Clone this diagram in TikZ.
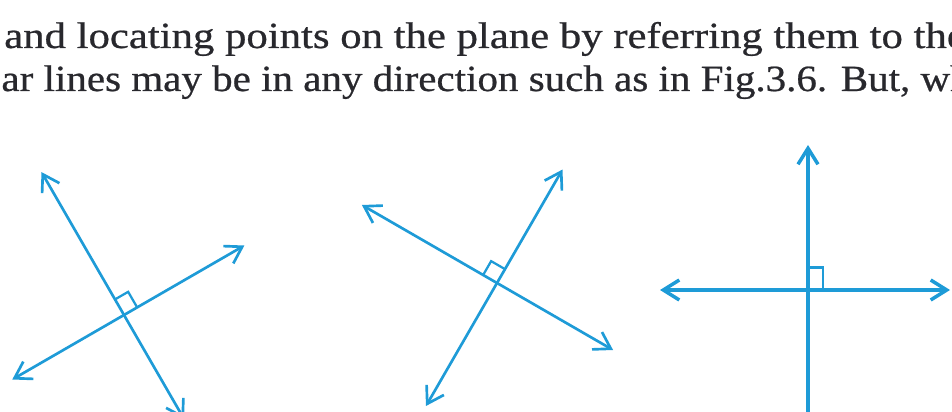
\documentclass[tikz,border=0pt]{standalone}
\usepackage{fontspec}
\setmainfont{Liberation Serif}
\newfontfamily\scanfont{Liberation Serif}[FakeBold=0.6]
\usetikzlibrary{arrows.meta}
\definecolor{lineblue}{RGB}{30,155,215}
\definecolor{inkgray}{RGB}{40,40,45}

\begin{document}
\begin{tikzpicture}[>={Straight Barb[length=0.4cm,width=0.5cm]},
    perp/.style={lineblue,line width=1.9pt,<->},
    rightbox/.style={lineblue,line width=1.6pt},
    textline/.style={inkgray,inner sep=0pt,anchor=base west,
        font=\scanfont\fontsize{26.3}{30}\selectfont}]
    \useasboundingbox (0,0) rectangle (23.8,10.3);

    \node[textline] (para1) at (0.1,9.1)
        {\scalebox{1.156}[1]{and locating points on the plane by referring them to the}};
    \node[textline] (para2) at (0.03,8.025)
        {\scalebox{1.109}[1]{ar lines may be in any direction such as in Fig.3.6. But, wh}};

    \coordinate (O1) at (3.1,2.425);
    \coordinate (O2) at (12.425,3.225);
    \coordinate (O3) at (20.2,3.05);

    \path (O1) ++(120:4.125) coordinate (A1) (O1) ++(300:3.0) coordinate (A2);
    \path (O1) ++(30:3.475) coordinate (B1) (O1) ++(210:3.225) coordinate (B2);
    \path (O2) ++(150:3.9) coordinate (C1) (O2) ++(330:3.35) coordinate (C2);
    \path (O2) ++(60:3.275) coordinate (D1) (O2) ++(240:3.55) coordinate (D2);
    \path (O3) ++(90:3.625) coordinate (E1) (O3) ++(270:3.8) coordinate (E2);
    \path (O3) ++(180:3.7) coordinate (F1) (O3) ++(0:3.55) coordinate (F2);

    \draw[perp] (A1) -- (A2);
    \draw[perp] (B2) -- (B1);
    \draw[rightbox,shift={(O1)},rotate=30] (0.38,0) -- (0.38,0.45) -- (0,0.45);

    \draw[perp] (C1) -- (C2);
    \draw[perp] (D2) -- (D1);
    \draw[rightbox,shift={(O2)},rotate=60] (0.4,0) -- (0.4,0.4) -- (0,0.4);

    \draw[perp,line width=2.5pt] (E2) -- (E1);
    \draw[perp,line width=2.5pt] (F1) -- (F2);
    \draw[rightbox,shift={(O3)}] (0.38,0) -- (0.38,0.56) -- (0,0.56);
\end{tikzpicture}
\end{document}
